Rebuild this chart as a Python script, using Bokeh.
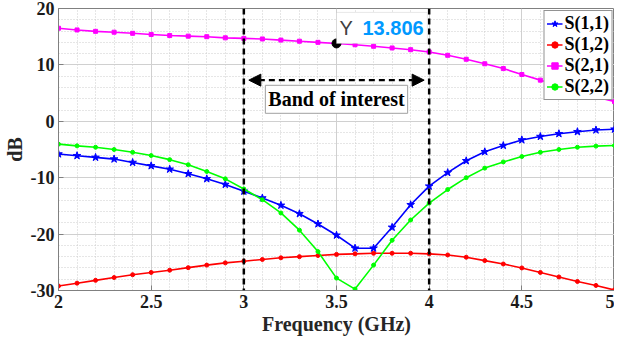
from bokeh.plotting import figure
from bokeh.models import (Span, Label, Arrow, NormalHead, FixedTicker, BoxAnnotation,
                          Range1d, Legend)
from bokeh.embed import file_html
from bokeh.resources import INLINE

freq = [2.0, 2.1, 2.2, 2.3, 2.4, 2.5, 2.6, 2.7, 2.8, 2.9, 3.0, 3.1, 3.2, 3.3, 3.4, 3.5,
        3.6, 3.7, 3.8, 3.9, 4.0, 4.1, 4.2, 4.3, 4.4, 4.5, 4.6, 4.7, 4.8, 4.9, 5.0]
s11 = [-5.8, -6.1, -6.4, -6.7, -7.3, -7.9, -8.5, -9.3, -10.2, -11.2, -12.4, -13.6, -14.9,
       -16.4, -18.2, -20.2, -22.5, -22.5, -18.8, -14.8, -11.5, -9.1, -7.0, -5.4, -4.3, -3.3,
       -2.7, -2.2, -1.85, -1.55, -1.4]
s12 = [-29.2, -28.7, -28.2, -27.7, -27.2, -26.8, -26.4, -25.95, -25.5, -25.1, -24.8, -24.5,
       -24.2, -24.0, -23.8, -23.6, -23.5, -23.4, -23.4, -23.4, -23.5, -23.7, -24.1, -24.7,
       -25.3, -26.0, -26.8, -27.6, -28.4, -29.1, -29.9]
s21 = [16.5, 16.2, 15.95, 15.8, 15.6, 15.4, 15.2, 15.1, 15.0, 14.8, 14.7, 14.6, 14.4, 14.2,
       14.0, 13.806, 13.57, 13.3, 13.0, 12.7, 12.3, 11.7, 11.0, 10.2, 9.35, 8.3, 7.3, 6.3,
       5.3, 4.3, 3.5]
s22 = [-4.05, -4.35, -4.6, -5.0, -5.5, -6.07, -6.8, -7.7, -8.9, -10.2, -12.0, -13.9, -16.25,
       -19.3, -23.1, -27.8, -29.75, -25.5, -21.1, -17.5, -14.5, -12.1, -10.0, -8.3, -7.2,
       -6.25, -5.5, -5.0, -4.6, -4.4, -4.3]

x_ticks = [2.0, 2.5, 3.0, 3.5, 4.0, 4.5, 5.0]
x_tick_labels = ["2", "2.5", "3", "3.5", "4", "4.5", "5"]
x_minor = [2.1, 2.2, 2.3, 2.4, 2.6, 2.7, 2.8, 2.9, 3.1, 3.2, 3.3, 3.4, 3.6, 3.7, 3.8, 3.9,
           4.1, 4.2, 4.3, 4.4, 4.6, 4.7, 4.8, 4.9]
y_ticks = [-30, -20, -10, 0, 10, 20]
y_tick_labels = ["-30", "-20", "-10", "0", "10", "20"]
y_minor = [-28, -26, -24, -22, -18, -16, -14, -12, -8, -6, -4, -2, 2, 4, 6, 8, 12, 14, 16, 18]
band = [3.0, 4.0]
tip_index = 15

SERIF = "Liberation Serif"
SANS = "Liberation Sans"

p = figure(width=614, height=337, output_backend="svg", toolbar_location=None,
           x_range=Range1d(2, 5), y_range=Range1d(-30, 20),
           min_border_left=50, min_border_right=0, min_border_top=8, min_border_bottom=45)
p.background_fill_color = "white"
p.outline_line_color = "#808080"

p.xaxis.ticker = FixedTicker(ticks=x_ticks, minor_ticks=x_minor)
p.yaxis.ticker = FixedTicker(ticks=y_ticks, minor_ticks=y_minor)
p.xaxis.major_label_overrides = {t: l for t, l in zip(x_ticks, x_tick_labels)}
p.yaxis.major_label_overrides = {t: l for t, l in zip(y_ticks, y_tick_labels)}

for ax in (p.xaxis[0], p.yaxis[0]):
    ax.major_label_text_font = SERIF
    ax.major_label_text_font_style = "bold"
    ax.major_label_text_font_size = "18px"
    ax.major_label_text_color = "#1a1a1a"
    ax.axis_label_text_font = SERIF
    ax.axis_label_text_font_style = "bold"
    ax.axis_label_text_font_size = "20px"
    ax.axis_label_text_color = "#262626"
    ax.axis_line_color = "#808080"
    ax.major_tick_line_color = "#808080"
    ax.major_tick_in = 5
    ax.major_tick_out = 0
    ax.minor_tick_in = 0
    ax.minor_tick_out = 0
    ax.major_label_standoff = 4
    ax.axis_label_standoff = 2

p.xaxis.axis_label = "Frequency (GHz)"
p.yaxis.axis_label = "dB"

for g in (p.xgrid[0], p.ygrid[0]):
    g.grid_line_color = "#d0d0d0"
    g.grid_line_width = 1
    g.minor_grid_line_color = "#cccccc"
    g.minor_grid_line_dash = "1 2"
    g.minor_grid_line_width = 1

series = [
    ("S(1,1)", s11, "#0000ff", "star", 8),
    ("S(1,2)", s12, "#ff0000", "circle", 4),
    ("S(2,1)", s21, "#ff00ff", "square", 4),
    ("S(2,2)", s22, "#00ff00", "circle", 4),
]
items = []
for name, ys, col, mk, sz in series:
    r1 = p.line(freq, ys, line_color=col, line_width=1.6)
    r2 = p.scatter(freq, ys, marker=mk, size=sz, fill_color=col, line_color=col)
    items.append((name, [r1, r2]))

legend = Legend(items=items, location="top_right")
legend.label_text_font = SERIF
legend.label_text_font_style = "bold"
legend.label_text_font_size = "18px"
legend.label_text_color = "black"
legend.border_line_color = "#262626"
legend.border_line_width = 1
legend.background_fill_color = "white"
legend.background_fill_alpha = 1
legend.padding = 2
legend.margin = 2
legend.spacing = 0
legend.label_height = 19
legend.glyph_height = 19
legend.glyph_width = 16
legend.label_standoff = 2
p.add_layout(legend)

for b in band:
    p.add_layout(Span(location=b, dimension="height", line_color="black",
                      line_width=2.5, line_dash="6 4"))

arrow = Arrow(x_start=band[0] + 0.027, x_end=band[1] - 0.027, y_start=7.3, y_end=7.3,
              line_color="black", line_width=2.2, line_dash="6 4",
              start=NormalHead(size=12, fill_color="black", line_color="black"),
              end=NormalHead(size=12, fill_color="black", line_color="black"))
p.add_layout(arrow)

p.add_layout(Label(x=(band[0] + band[1]) / 2, y=3.9, text="Band of interest",
                   text_align="center", text_baseline="middle",
                   text_font=SERIF, text_font_style="bold", text_font_size="20px",
                   text_color="black", background_fill_color="white",
                   border_line_color="#a0a0a0", border_line_width=1, padding=3))

# data tip
tx, ty = freq[tip_index], s21[tip_index]
p.add_layout(BoxAnnotation(left=tx, right=tx + 0.49, bottom=ty, top=ty + 5.5,
                           fill_color="white", fill_alpha=1,
                           line_color="#b4b4b4", line_width=1))
p.scatter([tx], [ty], marker="circle", size=9, fill_color="black", line_color="black")
p.add_layout(Label(x=tx, y=ty, x_offset=3, y_offset=15, text="Y", text_baseline="middle",
                   text_font=SANS, text_font_size="20px", text_color="#404040"))
p.add_layout(Label(x=tx, y=ty, x_offset=26, y_offset=15, text=f"{ty:.3f}",
                   text_baseline="middle", text_font=SANS, text_font_style="bold",
                   text_font_size="20px", text_color="#0099ff"))

open("out.html", "w").write(file_html(p, INLINE))
